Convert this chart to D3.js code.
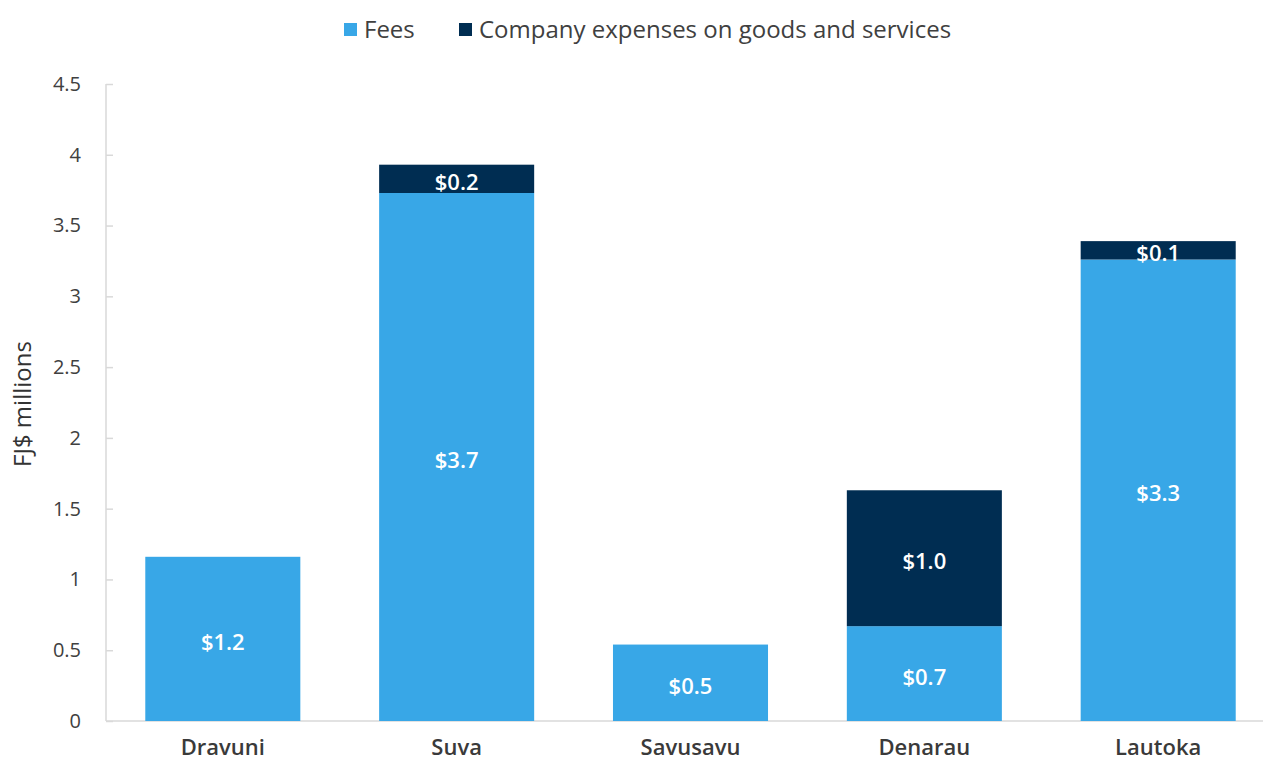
<!DOCTYPE html>
<html>
<head>
<meta charset="utf-8">
<script src="https://cdn.jsdelivr.net/npm/d3@7"></script>
<style>
  body { margin: 0; background: #fff; }
  text { font-family: "Open Sans", "Noto Sans", sans-serif; }
</style>
</head>
<body>
<div id="chart"></div>
<script>
// chart data
var categories = ["Dravuni", "Suva", "Savusavu", "Denarau", "Lautoka"];
var fees = [1.16, 3.73, 0.54, 0.67, 3.26];
var companyExpenses = [0, 0.2, 0, 0.96, 0.13];
var seriesNames = ["Fees", "Company expenses on goods and services"];
var yTicks = [0, 0.5, 1, 1.5, 2, 2.5, 3, 3.5, 4, 4.5];

var svgWidth = 1263, svgHeight = 763;
var colors = ["#38a7e7", "#002d52"];

var svg = d3.select("#chart").append("svg")
    .attr("width", svgWidth)
    .attr("height", svgHeight);

// scales
var xScale = d3.scaleBand()
    .domain(categories)
    .range([106, 1275])
    .paddingInner(0.337)
    .paddingOuter(0.168);

var yScale = d3.scaleLinear()
    .domain([0, 4.5])
    .range([721, 84]);

// y axis
var leftAxis = d3.axisRight(yScale)
    .tickValues(yTicks)
    .tickSize(7)
    .tickFormat(d => d === 0 ? "0" : String(d));

var yAxis = svg.append("g")
    .attr("transform", "translate(106,0)")
    .call(leftAxis);
yAxis.select(".domain").attr("stroke", "#d9d9d9").attr("stroke-width", 1.5)
    .attr("d", "M0," + yScale(4.5) + "V" + yScale(0));
yAxis.selectAll(".tick line").attr("stroke", "#d9d9d9").attr("stroke-width", 1.5);
yAxis.selectAll(".tick text")
    .attr("x", -25)
    .attr("text-anchor", "end")
    .attr("font-size", "20px")
    .attr("fill", "#404040");

// x axis
var bottomAxis = d3.axisBottom(xScale).tickSize(0).tickPadding(18);
var xAxis = svg.append("g")
    .attr("transform", "translate(0,721)")
    .call(bottomAxis);
xAxis.select(".domain").attr("stroke", "#d9d9d9").attr("stroke-width", 1.5)
    .attr("d", "M106,0H1263");
xAxis.selectAll(".tick text")
    .attr("font-size", "22px")
    .attr("font-weight", 600)
    .attr("fill", "#3a3a3a");

// stacked data
var stackData = categories.map(function(c, i) {
    return { cat: c, fees: fees[i], company: companyExpenses[i] };
});
var stack = d3.stack().keys(["fees", "company"]);
var series = stack(stackData);

var groups = svg.selectAll(".series")
    .data(series)
    .enter()
    .append("g")
    .attr("fill", (d, i) => colors[i]);

groups.selectAll("rect")
    .data(d => d.filter(p => p[1] - p[0] > 0))
    .enter()
    .append("rect")
    .attr("x", d => xScale(d.data.cat))
    .attr("width", xScale.bandwidth())
    .attr("y", d => yScale(d[1]))
    .attr("height", d => yScale(d[0]) - yScale(d[1]));

// labels inside segments
groups.selectAll("text")
    .data(d => d.filter(p => p[1] - p[0] > 0))
    .enter()
    .append("text")
    .attr("x", d => xScale(d.data.cat) + xScale.bandwidth() / 2)
    .attr("y", d => (yScale(d[0]) + yScale(d[1])) / 2)
    .attr("dy", "0.5em")
    .attr("text-anchor", "middle")
    .attr("font-size", "22px")
    .attr("font-weight", 600)
    .attr("fill", "#fff")
    .text(d => "$" + (d[1] - d[0]).toFixed(1));

// y axis title
svg.append("text")
    .attr("transform", "translate(31,404) rotate(-90)")
    .attr("text-anchor", "middle")
    .attr("font-size", "24px")
    .attr("fill", "#333")
    .text("FJ$ millions");

// legend
var legendX = [344, 459];
var legend = svg.selectAll(".legend")
    .data(seriesNames)
    .enter()
    .append("g")
    .attr("transform", (d, i) => "translate(" + legendX[i] + ",23)");
legend.append("rect")
    .attr("width", 13)
    .attr("height", 13)
    .attr("fill", (d, i) => colors[i]);
legend.append("text")
    .attr("x", 20)
    .attr("y", 6.5)
    .attr("dy", "0.36em")
    .attr("font-size", "24px")
    .attr("fill", "#404040")
    .text(d => d);
</script>
</body>
</html>
